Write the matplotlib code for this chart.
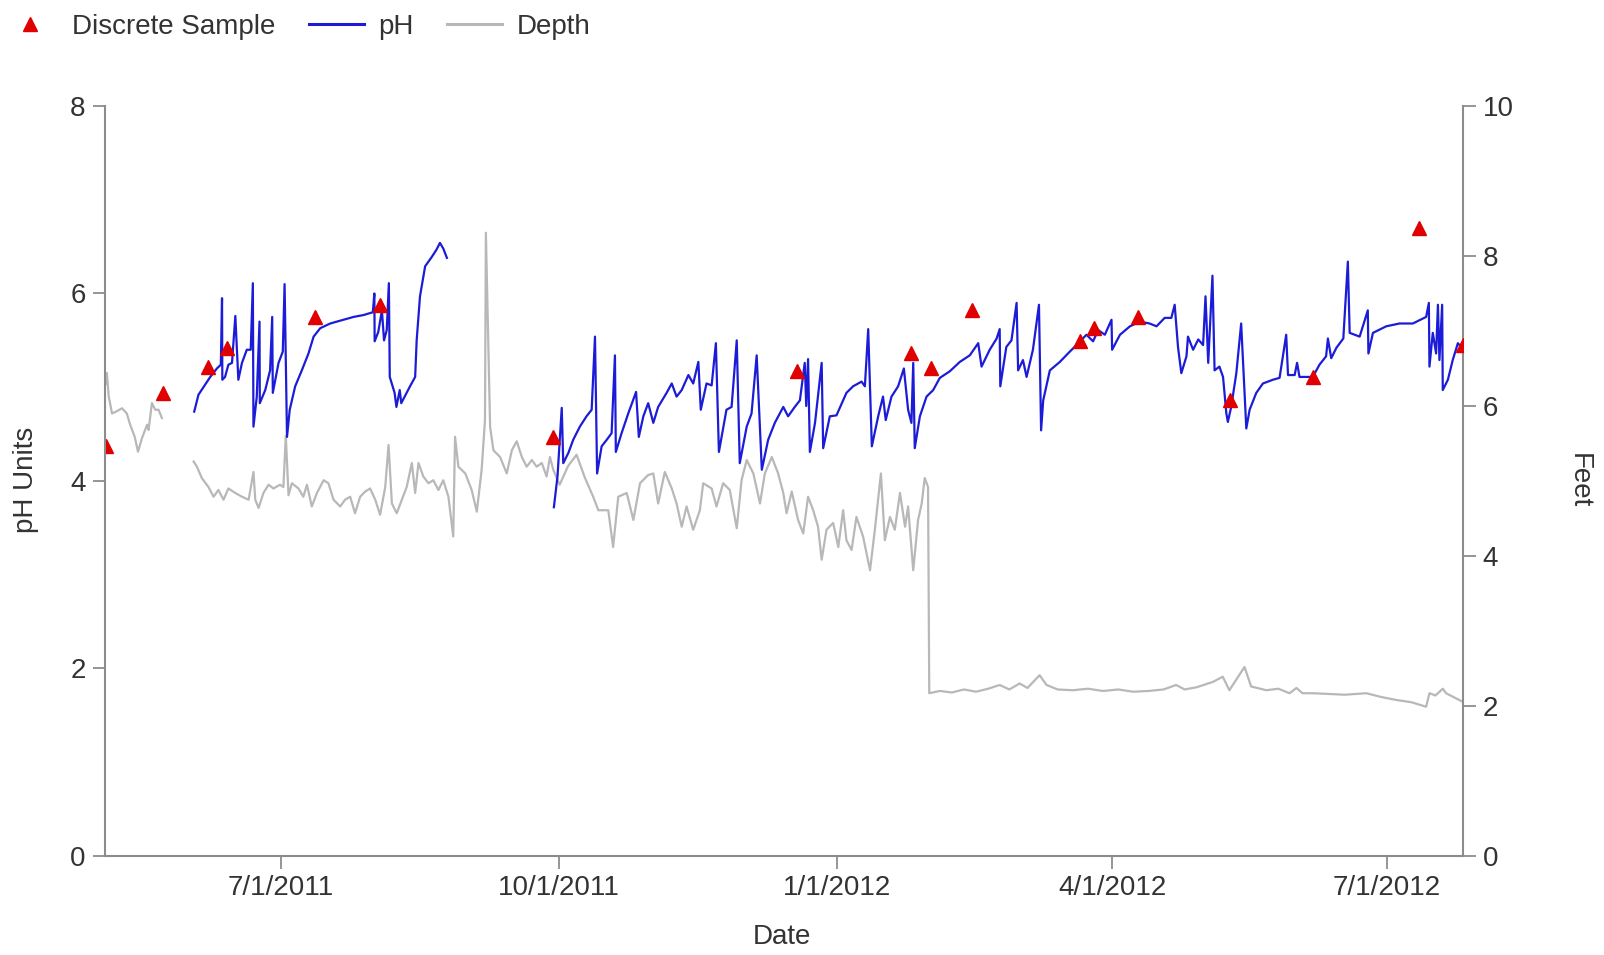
import numpy as np
import pandas as pd
import matplotlib
matplotlib.use("Agg")
import matplotlib.pyplot as plt
from matplotlib.ticker import FuncFormatter
from matplotlib.lines import Line2D

plt.rcParams['font.family'] = ['Liberation Sans', 'DejaVu Sans']

start = pd.Timestamp("2011-05-04")
nan = np.nan

# continuous pH record, days since start (nan = logger gap)
ph_day = [29.3, 30.7, 34.6, 36.8, 38.1, 38.5, 38.6, 39.5, 40.6, 41.8, 42.9, 43.9, 45.1, 46.7, 48.0,
          48.7, 48.9, 50.0, 50.9, 51.0, 52.8, 54.4, 55.1, 55.3, 57.2, 58.6, 59.2, 60.0, 60.9, 62.7,
          64.9, 67.1, 68.8, 71.0, 74.3, 78.7, 82.0, 85.3, 88.4, 88.9, 89.0, 90.2, 91.4, 92.1, 93.0,
          93.7, 94.0, 95.6, 96.2, 97.3, 97.8, 100.7, 102.4, 102.9, 104.0, 105.7, 107.9, 109.5, 110.6,
          111.7, 112.9, nan,
          148.3, 149.5, 150.9, 151.4, 153.1, 154.7, 156.9, 159.1, 160.8, 161.9, 162.6, 164.1, 165.8,
          167.4, 168.5, 168.8, 170.7, 172.9, 175.5, 176.4, 177.9, 179.5, 181.2, 182.8, 185.6, 187.3,
          188.9, 190.6, 192.8, 194.4, 196.1, 196.9, 198.8, 200.5, 201.9, 202.9, 205.4, 207.1, 208.8,
          209.8, 212.1, 213.7, 215.4, 217.1, 219.2, 221.4, 224.2, 225.8, 228.0, 229.7, 231.3, 231.8,
          232.4, 233.0, 234.7, 236.9, 237.4, 239.6, 241.8, 245.1, 247.3, 250.1, 251.2, 252.3, 253.5,
          255.6, 257.2, 258.1, 260.0, 262.2, 264.1, 265.5, 266.6, 267.2, 267.7, 269.4, 271.6, 273.8,
          276.0, 279.3, 282.6, 285.9, 288.7, 289.8, 292.5, 294.8, 295.8, 296.0, 298.0, 299.7, 301.4,
          301.9, 303.5, 304.7, 306.8, 308.8, 309.5, 310.2, 312.4, 315.7, 319.0, 321.2, 324.5, 326.7,
          328.4, 330.6, 332.8, 333.0, 335.6, 338.9, 342.2, 345.4, 347.7, 350.4, 352.6, 353.7, 354.8,
          355.9, 357.6, 358.1, 359.8, 361.5, 363.1, 363.9, 364.8, 366.2, 366.9, 368.5, 369.7, 370.8,
          371.3, 372.4, 374.1, 375.7, 377.4, 378.5, 380.7, 382.9, 386.2, 388.4, 390.6, 391.2, 393.4,
          394.2, 395.0, 399.4, 401.6, 403.8, 404.4, 405.5, 407.2, 409.5, 411.0, 411.6, 414.9, 417.6,
          417.8, 419.3, 423.7, 428.1, 432.5, 436.9, 437.8, 438.0, 439.1, 440.2, 440.8, 441.3, 442.2,
          442.4, 444.1, 445.7, 447.4, 448.5]
ph_val = [4.74, 4.92, 5.11, 5.20, 5.24, 5.95, 5.08, 5.11, 5.24, 5.26, 5.76, 5.08, 5.26, 5.40, 5.40,
          6.11, 4.58, 4.90, 5.70, 4.83, 4.97, 5.18, 5.75, 4.94, 5.26, 5.38, 6.10, 4.47, 4.76, 5.01,
          5.18, 5.36, 5.54, 5.63, 5.68, 5.72, 5.75, 5.77, 5.80, 6.00, 5.49, 5.59, 5.82, 5.50, 5.61,
          6.11, 5.11, 4.94, 4.79, 4.97, 4.83, 5.01, 5.11, 5.50, 5.97, 6.29, 6.39, 6.47, 6.54,
          6.48, 6.38, nan,
          3.72, 4.05, 4.78, 4.19, 4.30, 4.44, 4.58, 4.69, 4.76, 5.54, 4.08, 4.37, 4.44,
          4.51, 5.34, 4.31, 4.51, 4.72, 4.95, 4.47, 4.69, 4.83, 4.62, 4.79, 4.94, 5.04,
          4.90, 4.97, 5.13, 5.04, 5.27, 4.76, 5.04, 5.02, 5.47, 4.31, 4.76, 4.79, 5.50,
          4.19, 4.58, 4.72, 5.34, 4.12, 4.44, 4.62, 4.79, 4.69, 4.79, 4.86, 5.26, 4.80,
          5.30, 4.31, 4.62, 5.26, 4.35, 4.69, 4.70, 4.94, 5.01, 5.06, 5.01, 5.62, 4.37,
          4.69, 4.90, 4.65, 4.90, 5.01, 5.20, 4.76, 4.62, 5.26, 4.35, 4.69, 4.90, 4.97,
          5.10, 5.17, 5.27, 5.34, 5.47, 5.22, 5.40, 5.52, 5.62, 5.01, 5.43, 5.50, 5.90,
          5.18, 5.29, 5.11, 5.40, 5.88, 4.54, 4.86, 5.18, 5.27, 5.38, 5.45, 5.56, 5.49,
          5.61, 5.56, 5.72, 5.40, 5.56, 5.65, 5.70, 5.68, 5.65, 5.74, 5.74, 5.88, 5.43,
          5.15, 5.33, 5.54, 5.40, 5.51, 5.45, 5.97, 5.26, 6.19, 5.18, 5.22, 5.11, 4.72,
          4.63, 4.79, 5.15, 5.68, 4.56, 4.76, 4.94, 5.04, 5.08, 5.10, 5.56, 5.13, 5.13,
          5.26, 5.11, 5.11, 5.24, 5.33, 5.52, 5.31, 5.42, 5.52, 6.34, 5.58, 5.54, 5.82,
          5.36, 5.58, 5.65, 5.68, 5.68, 5.75, 5.90, 5.22, 5.58, 5.36, 5.88, 5.29, 5.88,
          4.97, 5.08, 5.29, 5.47, 5.43]

# water depth (feet), days since start
depth_day = [0.1, 0.4, 1.0, 2.1, 3.7, 5.4, 7.0, 8.1, 9.6, 10.7, 12.0, 13.7, 14.2, 15.3, 16.4, 17.5,
             18.6, nan,
             29.1, 30.2, 31.8, 34.0, 35.7, 37.3, 39.0, 40.6, 42.9, 45.1, 47.3, 48.9, 49.5, 50.6,
             52.2, 53.9, 55.5, 57.7, 58.8, 59.6, 60.5, 61.6, 63.8, 65.4, 66.6, 68.2, 69.9, 72.1,
             73.7, 75.4, 77.6, 79.2, 80.9, 82.5, 84.2, 85.9, 87.5, 89.2, 90.8, 92.5, 93.6, 94.7,
             96.3, 98.0, 99.6, 101.3, 102.4, 103.5, 105.1, 106.8, 108.4, 110.1, 111.7, 113.4,
             115.0, 115.6, 116.7, 119.0, 121.1, 122.8, 124.4, 125.5, 125.8, 127.2, 128.3, 130.5,
             132.7, 134.4, 136.0, 137.7, 139.3, 141.0, 142.6, 144.3, 145.9, 147.0, 148.1, 150.2,
             153.0, 155.8, 158.5, 161.3, 163.0, 166.3, 167.9, 169.6, 172.4, 174.6, 176.8, 179.5,
             181.2, 182.8, 185.0, 187.3, 188.9, 190.6, 192.2, 194.4, 196.6, 197.7, 200.5, 202.1,
             204.3, 206.5, 208.8, 210.4, 212.1, 214.3, 216.5, 218.1, 220.4, 222.5, 224.2, 225.3,
             227.0, 229.1, 230.8, 232.4, 234.1, 235.7, 236.9, 238.5, 240.7, 242.4, 244.0, 245.1,
             246.8, 248.4, 250.6, 252.9, 254.5, 256.5, 257.8, 259.5, 261.1, 262.8, 264.5, 265.5,
             267.2, 268.8, 270.0, 271.0, 272.1, 272.5, 276, 280, 284, 288, 292, 295.8, 299,
             302.4, 305, 309.0, 311.3, 315, 320, 325, 330, 335, 340, 345, 350, 354.2, 357, 361,
             366.3, 369.6, 371.8, 376.8, 379.0, 384.0, 388, 391.7, 394, 396, 399.4, 405, 410,
             417.1, 422, 427.0, 432, 436.9, 438.0, 440, 442.4, 443.5, 447.9, 448.8]
depth_val = [6.30, 6.44, 6.13, 5.90, 5.93, 5.97, 5.90, 5.75, 5.59, 5.39, 5.57, 5.75, 5.68, 6.04, 5.95,
             5.95, 5.84, nan,
             5.26, 5.19, 5.04, 4.92, 4.79, 4.88, 4.75, 4.90, 4.84, 4.79, 4.75, 5.12, 4.75, 4.64,
             4.84, 4.95, 4.90, 4.95, 4.92, 5.60, 4.81, 4.97, 4.90, 4.79, 4.95, 4.66, 4.84, 5.01,
             4.97, 4.75, 4.66, 4.75, 4.79, 4.57, 4.79, 4.86, 4.90, 4.75, 4.55, 4.92, 5.48, 4.70,
             4.57, 4.75, 4.92, 5.24, 4.84, 5.24, 5.06, 4.97, 5.01, 4.88, 5.01, 4.79,
             4.26, 5.59, 5.19, 5.10, 4.88, 4.59, 5.15, 5.81, 8.31, 5.72, 5.41, 5.32,
             5.10, 5.41, 5.53, 5.32, 5.19, 5.28, 5.19, 5.24, 5.06, 5.32, 5.15, 4.95,
             5.20, 5.35, 5.05, 4.79, 4.61, 4.61, 4.12, 4.79, 4.84, 4.48, 4.97, 5.08,
             5.10, 4.70, 5.12, 4.90, 4.70, 4.39, 4.66, 4.35, 4.61, 4.97, 4.90, 4.66,
             4.97, 4.88, 4.37, 5.01, 5.28, 5.10, 4.70, 5.10, 5.32, 5.10, 4.84, 4.57,
             4.86, 4.48, 4.30, 4.79, 4.61, 4.39, 3.95, 4.35, 4.44, 4.12, 4.61, 4.21,
             4.08, 4.52, 4.26, 3.81, 4.35, 5.10, 4.21, 4.52, 4.35, 4.84, 4.39, 4.66,
             3.81, 4.48, 4.70, 5.04, 4.92, 2.17, 2.20, 2.18, 2.22, 2.19, 2.23, 2.28, 2.22,
             2.30, 2.24, 2.41, 2.28, 2.22, 2.21, 2.23, 2.20, 2.22, 2.19, 2.20, 2.22, 2.28, 2.22, 2.25,
             2.32, 2.39, 2.21, 2.52, 2.26, 2.21, 2.23, 2.17, 2.24, 2.17, 2.17, 2.16, 2.15,
             2.17, 2.12, 2.08, 2.05, 1.99, 2.17, 2.14, 2.23, 2.17, 2.08, 2.06]

# discrete (grab) samples
sample_day = [0.1, 19.1, 34.0, 40.3, 69.3, 90.8, 148.1, 228.6, 266.6, 273.2, 286.8,
              322.5, 327.1, 341.4, 371.9, 399.4, 434.7, 449.0]
sample_ph = [4.37, 4.94, 5.22, 5.42, 5.75, 5.88, 4.47, 5.17, 5.36, 5.21, 5.82,
             5.49, 5.63, 5.75, 4.86, 5.11, 6.70, 5.45]

tick_dates = ["2011-07-01", "2011-10-01", "2012-01-01", "2012-04-01", "2012-07-01"]


def to_dates(days):
    return start + pd.to_timedelta(np.array(days, dtype=float), unit="D")


spine_col = "#8c8c8c"
text_col = "#333333"
fs = 20

fig = plt.figure(figsize=(16.04, 9.55), dpi=100)
ax = fig.add_axes([0.0655, 0.1037, 0.8466, 0.7853])
ax2 = ax.twinx()

ax2.plot(to_dates(depth_day), depth_val, color="#b8b8b8", lw=1.6)
ax.plot(to_dates(ph_day), ph_val, color="#1c1cd8", lw=1.6)
ax.plot(to_dates(sample_day), sample_ph, ls="none", marker="^", ms=10, color="#e00000",
        markeredgecolor="#e00000")

# pH on top of depth
ax.set_zorder(ax2.get_zorder() + 1)
ax.patch.set_visible(False)

ax.set_xlim(start - pd.Timedelta(days=0.2), start + pd.Timedelta(days=449.1))
ax.set_ylim(0, 8)
ax2.set_ylim(0, 10)
ax.set_yticks([0, 2, 4, 6, 8])
ax2.set_yticks([0, 2, 4, 6, 8, 10])
ax.set_xticks(pd.to_datetime(tick_dates))
ax.xaxis.set_major_formatter(FuncFormatter(
    lambda v, p: (lambda d: f"{d.month}/{d.day}/{d.year}")(matplotlib.dates.num2date(v))))

for a in (ax, ax2):
    a.spines["top"].set_visible(False)
    for s in a.spines.values():
        s.set_color(spine_col)
        s.set_linewidth(1.5)
    a.tick_params(colors=spine_col, labelcolor=text_col, labelsize=fs, length=9, width=1.3,
                  direction="out", pad=5)
ax.spines["right"].set_visible(False)
ax2.spines["left"].set_visible(False)
ax2.spines["bottom"].set_visible(False)

fig.text(0.016, 0.497, "pH Units", rotation=90, ha="center", va="center", fontsize=fs, color=text_col)
fig.text(0.984, 0.497, "Feet", rotation=270, ha="center", va="center", fontsize=fs, color=text_col)
fig.text(0.4876, 0.019, "Date", ha="center", va="center", fontsize=fs, color=text_col)

handles = [Line2D([], [], ls="none", marker="^", ms=10, color="#e00000"),
           Line2D([], [], color="#1c1cd8", lw=2.2),
           Line2D([], [], color="#b8b8b8", lw=2.2)]
fig.legend(handles, ["Discrete Sample", "pH", "Depth"], loc="upper left",
           bbox_to_anchor=(-0.014, 1.012), ncol=3, frameon=False, fontsize=fs,
           labelcolor=text_col, handlelength=2.0, handletextpad=0.5, columnspacing=1.2)

fig.savefig("out.png", dpi=100)
